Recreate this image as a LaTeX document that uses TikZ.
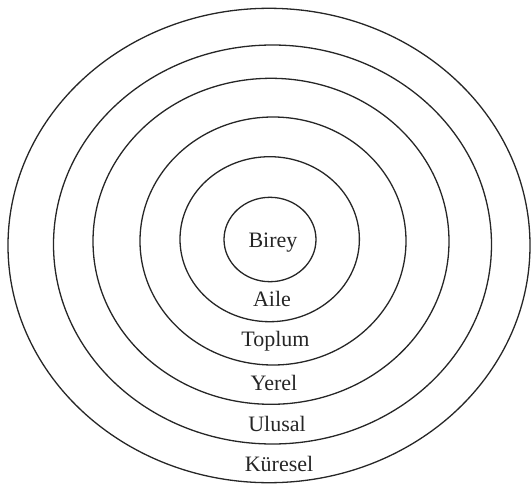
\documentclass[tikz,border=0pt]{standalone}
\usepackage{fontspec}
\setmainfont{Liberation Serif}
\begin{document}
\begin{tikzpicture}[x=1pt,y=-1pt,
  ring/.style={draw=black!85,line width=1.3pt},
  lbl/.style={anchor=base,inner sep=0pt,font=\fontsize{22}{26}\selectfont,text=black!85}]
\useasboundingbox (0,0) rectangle (531,485);
\draw[ring] (269,245.5) ellipse [x radius=261, y radius=237.2];
\draw[ring] (272.5,244.5) ellipse [x radius=219, y radius=199.5];
\draw[ring] (271,241.3) ellipse [x radius=178, y radius=163];
\draw[ring] (273,241) ellipse [x radius=133, y radius=124];
\draw[ring] (269.7,239.2) ellipse [x radius=89.7, y radius=82.5];
\draw[ring] (270,239.5) ellipse [x radius=46, y radius=42.2];
\node[lbl] (birey) at (273,247.3) {Birey};
\node[lbl] (aile) at (272,306.7) {Aile};
\node[lbl] (toplum) at (275.5,346.5) {Toplum};
\node[lbl] (yerel) at (274,390) {Yerel};
\node[lbl] (ulusal) at (277,431) {Ulusal};
\node[lbl] (kuresel) at (279,471) {Küresel};
\end{tikzpicture}
\end{document}
